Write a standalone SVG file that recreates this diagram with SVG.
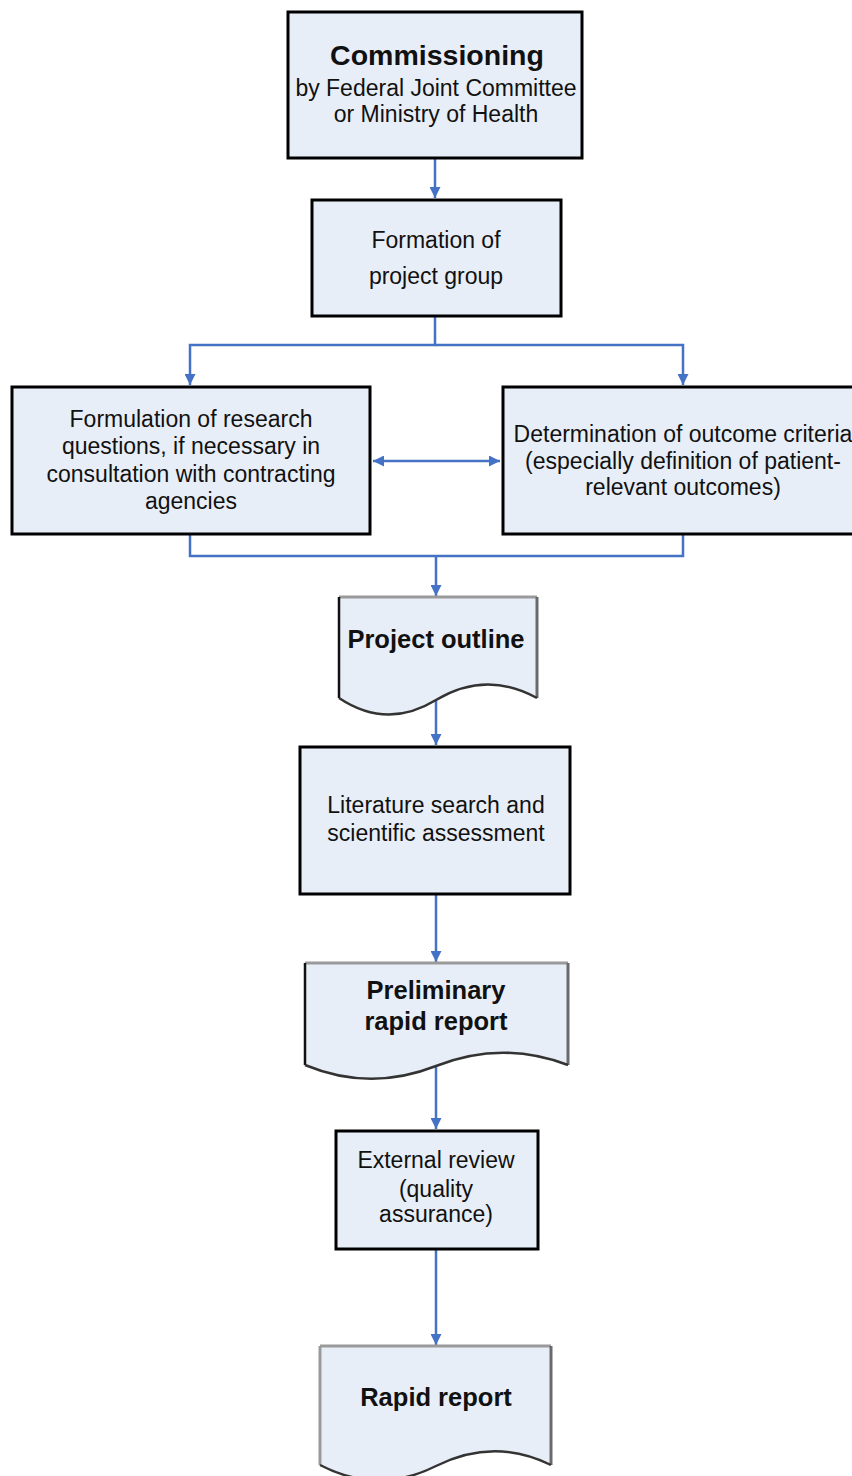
<svg xmlns="http://www.w3.org/2000/svg" width="852" height="1476" viewBox="0 0 852 1476">
  <style>
    .box { fill: #e8eef7; stroke: #000; stroke-width: 3; }
    .doc { fill: #e8eef7; stroke: none; }
    .edge-dark { fill: none; stroke: #111; stroke-width: 2.5; }
    .edge-grey { fill: none; stroke: #9a9a9a; stroke-width: 3; }
    .edge-mid { fill: none; stroke: #6a6a6a; stroke-width: 3; }
    .wave { fill: none; stroke: #333; stroke-width: 2.5; }
    .link { fill: none; stroke: #4472c4; stroke-width: 2.5; }
    text { font-family: "Liberation Sans", Arial, sans-serif; fill: #111; text-anchor: middle; }
    .t { font-size: 23px; }
    .b { font-size: 25.5px; font-weight: bold; }
    .h { font-size: 28.5px; font-weight: bold; }
  </style>
  <defs>
    <marker id="arrow" viewBox="0 0 10 10" refX="10" refY="5" markerWidth="11" markerHeight="11" markerUnits="userSpaceOnUse" orient="auto-start-reverse">
      <path d="M0,0 L10,5 L0,10 Z" fill="#4472c4"/>
    </marker>
  </defs>

  <g id="connectors">
    <line class="link" x1="435" y1="158" x2="435" y2="198" marker-end="url(#arrow)"/>
    <polyline class="link" points="435,317 435,345 190,345 190,385" marker-end="url(#arrow)"/>
    <polyline class="link" points="435,345 683,345 683,385" marker-end="url(#arrow)"/>
    <line class="link" x1="373" y1="461" x2="500" y2="461" marker-start="url(#arrow)" marker-end="url(#arrow)"/>
    <polyline class="link" points="190,535 190,556 683,556 683,535"/>
    <line class="link" x1="436" y1="556" x2="436" y2="596" marker-end="url(#arrow)"/>
    <line class="link" x1="436" y1="700" x2="436" y2="745" marker-end="url(#arrow)"/>
    <line class="link" x1="436" y1="895" x2="436" y2="962" marker-end="url(#arrow)"/>
    <line class="link" x1="436" y1="1066" x2="436" y2="1129" marker-end="url(#arrow)"/>
    <line class="link" x1="436" y1="1250" x2="436" y2="1345" marker-end="url(#arrow)"/>
  </g>

  <g id="commissioning">
    <rect class="box" x="288" y="12" width="294" height="146"/>
    <text class="h" x="437" y="65">Commissioning</text>
    <text class="t" x="436" y="96">by Federal Joint Committee</text>
    <text class="t" x="436" y="122">or Ministry of Health</text>
  </g>

  <g id="project-group">
    <rect class="box" x="312" y="200" width="249" height="116"/>
    <text class="t" x="436" y="248">Formation of</text>
    <text class="t" x="436" y="284">project group</text>
  </g>

  <g id="research-questions">
    <rect class="box" x="12" y="387" width="358" height="147"/>
    <text class="t" x="191" y="427">Formulation of research</text>
    <text class="t" x="191" y="454">questions, if necessary in</text>
    <text class="t" x="191" y="482">consultation with contracting</text>
    <text class="t" x="191" y="509">agencies</text>
  </g>

  <g id="outcome-criteria">
    <rect class="box" x="503" y="387" width="362" height="147"/>
    <text class="t" x="683" y="442">Determination of outcome criteria</text>
    <text class="t" x="683" y="469">(especially definition of patient-</text>
    <text class="t" x="683" y="495">relevant outcomes)</text>
  </g>

  <g id="project-outline">
    <path class="doc" d="M339,597 H537 V698 Q486,670 436,700 Q387,730 339,698 Z"/>
    <path class="edge-grey" d="M339,597 H537"/>
    <path class="edge-mid" d="M537,597 V698"/>
    <path class="edge-dark" d="M339,597 V698"/>
    <path class="wave" d="M339,698 Q387,730 436,700 Q486,670 537,698"/>
    <text class="b" x="436" y="648">Project outline</text>
  </g>

  <g id="literature-search">
    <rect class="box" x="300" y="747" width="270" height="147"/>
    <text class="t" x="436" y="813">Literature search and</text>
    <text class="t" x="436" y="841">scientific assessment</text>
  </g>

  <g id="preliminary-report">
    <path class="doc" d="M305,963 H568 V1065 Q502,1040 436,1066 Q370,1092 305,1065 Z"/>
    <path class="edge-grey" d="M305,963 H568"/>
    <path class="edge-mid" d="M568,963 V1065"/>
    <path class="edge-dark" d="M305,963 V1065"/>
    <path class="wave" d="M305,1065 Q370,1092 436,1066 Q502,1040 568,1065"/>
    <text class="b" x="436" y="999">Preliminary</text>
    <text class="b" x="436" y="1030">rapid report</text>
  </g>

  <g id="external-review">
    <rect class="box" x="336" y="1131" width="202" height="118"/>
    <text class="t" x="436" y="1168">External review</text>
    <text class="t" x="436" y="1197">(quality</text>
    <text class="t" x="436" y="1222">assurance)</text>
  </g>

  <g id="rapid-report">
    <path class="doc" d="M320,1346 H551 V1465 Q494,1437 436,1466 Q378,1495 320,1465 Z"/>
    <path class="edge-grey" d="M320,1346 H551"/>
    <path class="edge-mid" d="M551,1346 V1465"/>
    <path class="edge-grey" d="M320,1346 V1465"/>
    <path class="wave" d="M320,1465 Q378,1495 436,1466 Q494,1437 551,1465"/>
    <text class="b" x="436" y="1406">Rapid report</text>
  </g>
</svg>
